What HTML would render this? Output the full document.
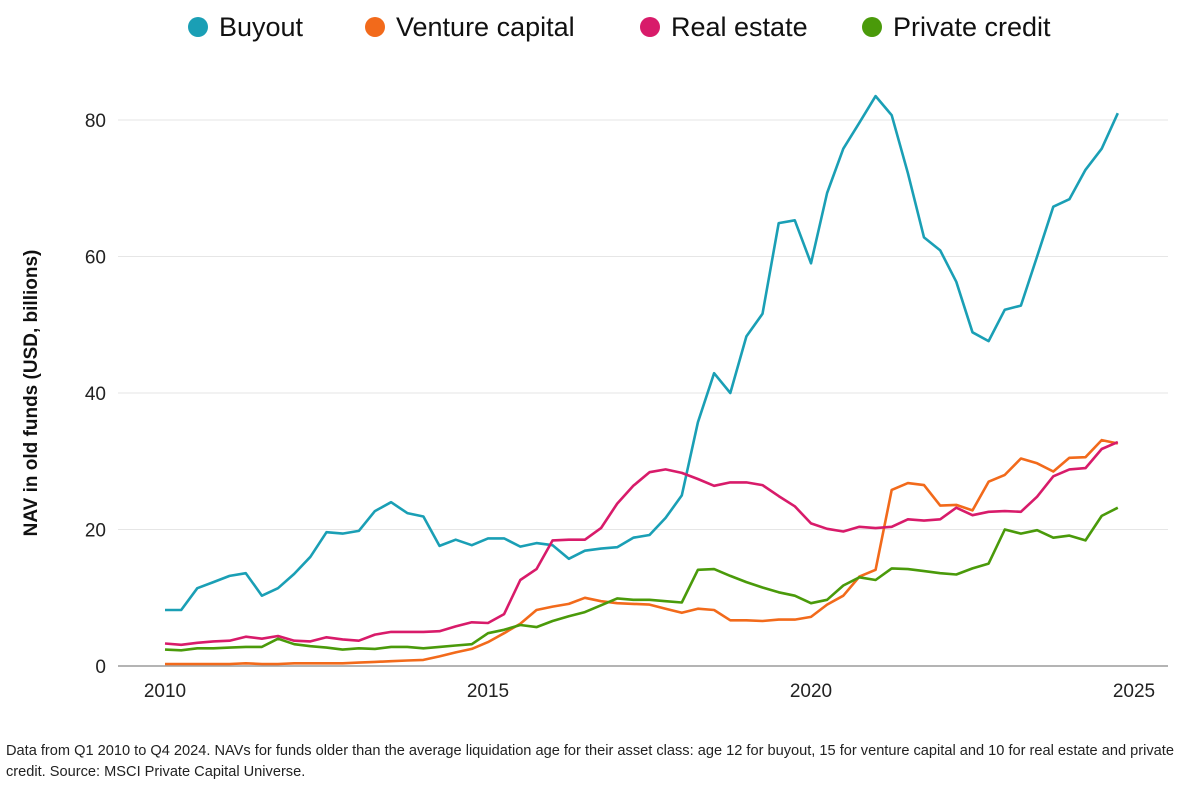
<!DOCTYPE html>
<html><head><meta charset="utf-8"><style>
body{margin:0;background:#fff;font-family:"Liberation Sans",sans-serif;}
#wrap{position:relative;width:1188px;height:794px;overflow:hidden;}
.note{position:absolute;left:6px;top:741px;font-size:14.6px;line-height:21px;color:#222;width:1180px;}
</style></head><body>
<div id="wrap">
<svg id="chart" width="1188" height="794"></svg>
<div class="note">Data from Q1 2010 to Q4 2024. NAVs for funds older than the average liquidation age for their asset class: age 12 for buyout, 15 for venture capital and 10 for real estate and private credit. Source: MSCI Private Capital Universe.</div>
</div>
<script>
const yTicks=[0,20,40,60,80];
const xTicks=[2010,2015,2020,2025];
const seriesNames=["Buyout","Venture capital","Real estate","Private credit"];
const buyout=[8.2,8.2,11.4,12.3,13.2,13.6,10.3,11.4,13.5,16,19.6,19.4,19.8,22.7,24,22.4,21.9,17.6,18.5,17.7,18.7,18.7,17.5,18,17.7,15.7,16.9,17.2,17.4,18.8,19.2,21.7,25,35.7,42.9,40,48.3,51.6,64.9,65.3,59,69.3,75.8,79.6,83.5,80.7,72.2,62.8,60.9,56.3,48.9,47.6,52.2,52.8,60,67.3,68.4,72.7,75.8,81];
const ventureCapital=[0.3,0.3,0.3,0.3,0.3,0.4,0.3,0.3,0.4,0.4,0.4,0.4,0.5,0.6,0.7,0.8,0.9,1.4,2,2.5,3.5,4.8,6.2,8.2,8.7,9.1,10,9.5,9.2,9.1,9,8.4,7.8,8.4,8.2,6.7,6.7,6.6,6.8,6.8,7.2,9,10.3,13.1,14.1,25.8,26.8,26.5,23.5,23.6,22.8,27,28,30.4,29.7,28.5,30.5,30.6,33.1,32.6];
const realEstate=[3.3,3.1,3.4,3.6,3.7,4.3,4,4.4,3.7,3.6,4.2,3.9,3.7,4.6,5,5,5,5.1,5.8,6.4,6.3,7.6,12.6,14.2,18.4,18.5,18.5,20.2,23.8,26.4,28.4,28.8,28.3,27.4,26.4,26.9,26.9,26.5,24.9,23.4,20.9,20.1,19.7,20.4,20.2,20.4,21.5,21.3,21.5,23.2,22.1,22.6,22.7,22.6,24.8,27.8,28.8,29,31.8,32.8];
const privateCredit=[2.4,2.3,2.6,2.6,2.7,2.8,2.8,4,3.2,2.9,2.7,2.4,2.6,2.5,2.8,2.8,2.6,2.8,3,3.2,4.8,5.3,6,5.7,6.6,7.3,7.9,8.9,9.9,9.7,9.7,9.5,9.3,14.1,14.2,13.2,12.3,11.5,10.8,10.3,9.2,9.7,11.8,13,12.6,14.3,14.2,13.9,13.6,13.4,14.3,15,20,19.4,19.9,18.8,19.1,18.4,22,23.2];
const startYear=2010;

const colors=["#1a9fb5","#f26a1b","#d81b6a","#4a9a0a"];
const allSeries=[buyout,ventureCapital,realEstate,privateCredit];
const NS="http://www.w3.org/2000/svg";
const svg=document.getElementById("chart");
function xs(yr){return 165+64.6*(yr-2010);}
function ys(v){return 666-v*6.825;}
function mk(tag,attrs){const e=document.createElementNS(NS,tag);for(const k in attrs)e.setAttribute(k,attrs[k]);svg.appendChild(e);return e;}

yTicks.forEach(t=>{
  if(t>0){const g=mk("line",{x1:118,x2:1168,y1:ys(t),y2:ys(t),stroke:"#e6e6e6","stroke-width":1});
  
  }
  const l=mk("text",{x:106,y:ys(t)+7,"text-anchor":"end","font-size":19,fill:"#222"});
  l.textContent=t;
  
  
});
const ax=mk("line",{x1:118,x2:1168,y1:666,y2:666,stroke:"#888","stroke-width":1.3});


xTicks.forEach(t=>{
  const l=mk("text",{x:xs(t),y:697,"text-anchor":"middle","font-size":19,fill:"#222"});
  l.textContent=t;
  
  
});
const yt=mk("text",{x:0,y:0,transform:"translate(37,393) rotate(-90)","text-anchor":"middle","font-size":19,"font-weight":"bold",fill:"#111"});
yt.textContent="NAV in old funds (USD, billions)";



allSeries.forEach((s,si)=>{
  const pts=s.map((v,i)=>xs(startYear+i/4).toFixed(1)+","+ys(v).toFixed(1)).join(" ");
  const p=mk("polyline",{points:pts,fill:"none",stroke:colors[si],"stroke-width":2.6,"stroke-linejoin":"round"});
  
  
});

const legX=[198,375,650,872];
seriesNames.forEach((n,i)=>{
  const c=mk("circle",{cx:legX[i],cy:27,r:10,fill:colors[i]});
  
  
  const t=mk("text",{x:legX[i]+21,y:36,"font-size":27,fill:"#111"});
  t.textContent=n;
  
  
});
</script>
</body></html>
